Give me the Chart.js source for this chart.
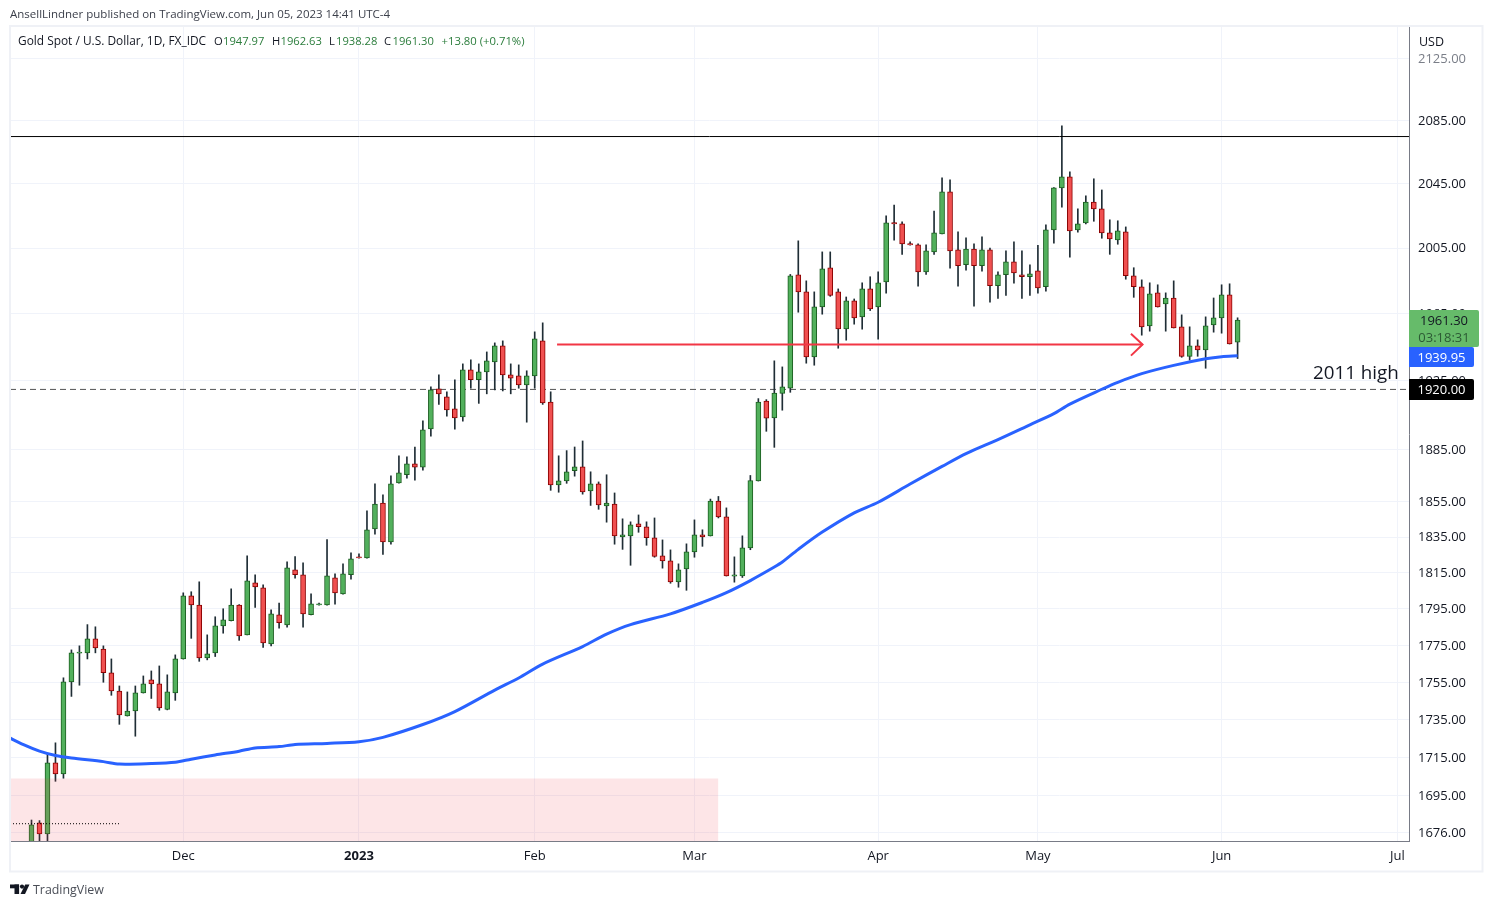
<!DOCTYPE html>
<html><head><meta charset="utf-8"><title>Gold Spot / U.S. Dollar</title>
<script src="https://cdn.jsdelivr.net/npm/chart.js@4/dist/chart.umd.js"></script>
<style>html,body{margin:0;padding:0;background:#fff}canvas{display:block}</style></head>
<body><canvas id="c" width="1493" height="907"></canvas>
<script>
const opens=[1668,1681.0,1675.3,1712.3,1706.5,1755.3,1770.8,1771.0,1778.6,1773.1,
1760.2,1750.4,1737.1,1739.7,1749.4,1756.4,1754.2,1740.6,1749.4,1767.7,
1802.2,1797.2,1768.3,1771.0,1785.7,1788.5,1797.2,1780.8,1809.4,1806.7,
1775.9,1791.8,1786.3,1816.7,1813.9,1791.8,1797.2,1797.2,1812.2,1803.3,
1813.9,1823.5,1823.3,1839.6,1854.3,1832.3,1865.8,1870.4,1876.7,1874.7,
1896.9,1920.3,1915.6,1908.6,1903.9,1931.6,1925.7,1930.4,1936.3,1945.8,
1928.6,1928.0,1922.7,1928.0,1948.8,1912.6,1864.6,1866.9,1872.7,1874.9,
1861.2,1865.2,1852.6,1853.7,1835.1,1835.7,1842.5,1840.8,1834.6,1824.5,
1821.7,1810.0,1817.2,1826.7,1836.3,1835.7,1855.4,1846.4,1813.2,1813.3,
1828.9,1866.9,1913.2,1903.3,1917.7,1920.7,1988.7,1978.3,1939.3,1969.2,
1993.0,1978.3,1956.0,1972.8,1963.2,1980.1,1969.2,1984.4,2020.6,2020.0,
2007.4,2007.0,1990.5,2002.7,2013.8,2039.9,2003.9,1994.8,2004.5,1994.2,
2003.9,1982.0,1988.7,1996.6,1988.7,1987.5,1991.1,1981.4,2016.3,2042.4,
2049.3,2016.3,2020.6,2033.6,2029.3,2014.4,2010.1,2015.1,1988.1,1981.4,
1957.8,1977.7,1971.0,1974.6,1957.2,1939.6,1945.8,1943.4,1958.4,1962.6,
1976.5,1947.97];
const highs=[1682.5,1682.2,1717.0,1722.8,1757.5,1772.6,1774.8,1786.4,1785.2,1774.8,
1767.7,1753.1,1749.9,1753.1,1758.5,1761.2,1763.9,1759.1,1769.9,1803.9,
1804.5,1810.0,1780.8,1790.7,1795.1,1806.1,1797.4,1824.5,1813.9,1808.3,
1794.5,1798.3,1821.1,1824.1,1820.6,1803.3,1798.3,1833.6,1814.4,1820.0,
1826.1,1825.6,1849.8,1865.2,1858.9,1869.8,1881.3,1880.7,1886.4,1901.6,
1921.5,1928.6,1918.6,1925.7,1935.1,1937.5,1935.1,1942.2,1947.6,1948.8,
1935.1,1934.5,1931.0,1954.2,1959.6,1918.6,1881.3,1884.3,1886.4,1889.9,
1872.1,1866.3,1870.4,1860.0,1845.3,1843.6,1847.5,1843.6,1845.8,1833.4,
1827.8,1820.0,1831.2,1844.7,1839.1,1856.5,1858.0,1851.5,1823.9,1835.7,
1870.0,1914.6,1914.0,1936.9,1933.3,1988.9,2009.5,1985.0,1978.3,2002.7,
2002.7,1980.1,1975.2,1974.0,1983.8,1987.5,1990.5,2025.0,2031.7,2021.2,
2008.9,2007.6,2007.0,2028.0,2048.7,2047.4,2015.1,2011.4,2007.6,2012.0,
2005.1,1990.5,2003.3,2008.9,2003.3,1994.8,2006.7,2019.4,2042.6,2081.7,
2052.5,2029.3,2037.4,2048.1,2041.1,2022.5,2021.9,2018.1,1993.0,1985.6,
1983.8,1982.6,1977.7,1985.0,1964.4,1957.2,1949.4,1963.2,1974.6,1982.6,
1983.2,1962.63];
const lows=[1664,1668,1670,1702.6,1704.2,1747.5,1753.5,1767.7,1771.0,1755.1,
1748.1,1732.6,1737.0,1726.3,1749.3,1746.4,1740.1,1740.3,1745.4,1767.6,
1778.9,1766.4,1767.2,1769.0,1781.7,1788.4,1777.8,1780.7,1795.9,1774.0,
1774.8,1784.4,1785.0,1812.0,1785.0,1791.7,1797.1,1797.1,1797.6,1803.2,
1811.4,1823.2,1823.2,1836.6,1825.3,1831.0,1865.6,1868.4,1867.3,1873.0,
1892.6,1911.2,1904.3,1896.7,1901.4,1920.7,1911.8,1917.4,1919.7,1919.1,
1917.4,1920.7,1900.8,1920.7,1911.2,1861.5,1860.4,1865.5,1869.6,1859.3,
1852.9,1850.7,1843.4,1831.0,1828.1,1819.2,1837.7,1830.4,1823.7,1817.6,
1809.2,1807.0,1805.3,1823.7,1829.8,1835.6,1845.8,1813.2,1809.8,1812.4,
1827.9,1866.8,1895.5,1886.2,1907.8,1918.3,1966.0,1935.5,1934.3,1964.8,
1975.6,1944.4,1949.2,1958.8,1955.8,1967.0,1949.8,1977.5,2009.9,2001.2,
2006.8,1981.7,1988.9,2001.2,2013.7,1992.7,1981.7,1991.5,1969.6,1990.9,
1972.0,1974.4,1976.2,1983.6,1974.4,1976.2,1977.5,1978.7,2008.0,2030.3,
1999.4,2014.8,2020.0,2021.6,2011.1,2001.2,2007.4,1986.0,1975.0,1952.2,
1954.6,1969.1,1954.6,1956.5,1939.0,1937.3,1939.6,1932.5,1954.0,1953.4,
1946.9,1938.28];
const closes=[1680.0,1675.3,1712.3,1706.5,1755.3,1771.0,1771.0,1778.6,1773.7,1760.2,
1750.4,1737.6,1739.7,1749.4,1754.2,1754.2,1741.3,1749.9,1767.7,1802.2,
1797.2,1768.3,1770.4,1785.7,1789.0,1797.2,1780.2,1810.6,1807.2,1776.4,
1792.3,1787.4,1817.8,1813.9,1792.3,1797.8,1797.4,1813.3,1803.9,1814.4,
1822.8,1823.3,1839.1,1853.7,1832.3,1865.2,1871.5,1876.7,1874.7,1896.3,
1919.7,1917.4,1908.0,1903.3,1931.6,1925.7,1930.4,1936.9,1945.8,1928.6,
1926.6,1922.7,1928.0,1950.0,1912.1,1864.6,1866.9,1872.1,1874.9,1860.6,
1865.2,1853.2,1854.3,1835.7,1836.3,1841.9,1840.8,1834.6,1824.2,1821.7,
1810.0,1816.7,1826.7,1836.3,1835.1,1855.4,1846.4,1813.3,1813.3,1828.9,
1867.1,1912.6,1903.1,1917.9,1921.5,1988.1,1978.3,1939.3,1969.2,1992.3,
1976.2,1956.0,1972.8,1962.6,1980.1,1968.0,1983.8,2020.6,2020.0,2007.6,
2007.0,1990.5,2003.3,2014.4,2039.9,2003.3,1994.2,2004.5,1994.2,2003.9,
1982.0,1988.7,1996.6,1989.9,1987.5,1989.3,1980.7,2016.3,2042.4,2049.3,
2015.7,2020.0,2033.6,2029.3,2014.4,2010.7,2015.7,1988.1,1981.4,1957.2,
1977.1,1969.2,1974.6,1956.6,1939.6,1945.8,1943.4,1957.8,1962.6,1976.5,
1947.0,1961.30];
const emaIndex=[-3,-1,1,3,5,9,11,15,18,20,23,26,28,31,33,37,41,44,49,53,58,61,64,69,72,75,80,84,87,90,93,94,96,99,103,106,110,114,117,121,125,128,130,134,136,139,143,147,149,151];
const emaValues=[1726.0,1721.8,1718.4,1716.1,1714.8,1712.9,1711.6,1711.9,1712.6,1714.2,1716.4,1718.4,1720.1,1720.8,1721.9,1722.5,1723.4,1725.7,1732.5,1739.4,1750.9,1757.4,1764.9,1774.4,1781.2,1786.4,1792.3,1798.6,1804.0,1810.7,1818.2,1821.0,1828.1,1837.8,1848.7,1854.7,1865.1,1875.2,1882.6,1890.7,1899.3,1905.8,1911.4,1920.1,1924.2,1929.3,1934.2,1938.1,1939.4,1939.95];
const priceTicks=[2125,2085,2045,2005,1965,1925,1885,1855,1835,1815,1795,1775,1755,1735,1715,1695,1676];
const timeTickIndex=[19,41,63,83,106,126,149,171];
const timeTickLabels=['Dec','2023','Feb','Mar','Apr','May','Jun','Jul'];
const resistance=2074.8, oldHigh=1920, zoneTop=1704, zoneEnd=86, dottedLevel=1680.6, dottedEnd=11;
const arrowShaft=[[65.8,1946.6],[139.1,1946.6]];
const arrowHead=[[137.65,1953],[139.1,1946.6],[137.65,1940]];
const lastClose=1961.30, emaLast=1939.95;

const xMin=-2.692,xMax=172.46,yMin=1671.71,yMax=2145.69;
const FONT='"Open Sans", "Noto Sans", sans-serif';
const isUp=i=>closes[i]>=opens[i];
const GREEN='#52b05c',GREEN_B='#1b5e20',RED='#f05050',RED_B='#8b0000',WICK='#1f2d35';
const idx=opens.map((_,i)=>i);
const hline=(v,extra)=>Object.assign({type:'line',data:[{x:xMin,y:v},{x:xMax,y:v}],pointRadius:0,borderWidth:1},extra);

const overlay={id:'overlay',afterDraw(ch){
  const c=ch.ctx,y=ch.scales.y;
  const txt=(s,x,yy,font,col,al)=>{c.font=font;c.fillStyle=col;c.textAlign=al||'left';c.textBaseline='middle';c.fillText(s,x,yy);};
  c.save();
  // frame
  c.strokeStyle='#eff1f6';c.lineWidth=2;c.strokeRect(10,26,1472.5,845.5);
  // header
  txt('AnsellLindner published on TradingView.com, Jun 05, 2023 14:41 UTC-4',10,14.5,'11.5px '+FONT,'#3a3e49');
  const NF='11.9px '+FONT,LF='11.2px '+FONT,G='#2b7d3c',D='#131722';
  txt('Gold Spot / U.S. Dollar, 1D, FX_IDC',18,42,NF,D);
  [['O','1947.97',214,223],['H','1962.63',272,280.5],['L','1938.28',329,336],['C','1961.30',384,392.5]].forEach(a=>{txt(a[0],a[2],42,LF,D);txt(a[1],a[3],42,LF,G);});
  txt('+13.80 (+0.71%)',441.5,42,'11.3px '+FONT,G);
  txt('USD',1419,42,'12.5px '+FONT,D);
  // annotation
  txt('2011 high',1313,373.5,'18.8px '+FONT,D);
  // price tags
  const tag=(x,yy,w,h,col)=>{c.fillStyle=col;c.beginPath();c.roundRect(x,yy,w,h,[0,2,2,0]);c.fill();};
  const gy=y.getPixelForValue(lastClose);
  tag(1409,310,70,37,'#66bb6a');
  txt(lastClose.toFixed(2),1444,gy+1.5,'13px '+FONT,D,'center');
  txt('03:18:31',1444,gy+18.5,'13px '+FONT,'#2c5a34','center');
  const by=y.getPixelForValue(emaLast);
  tag(1409,347,65,20,'#2962ff');
  txt(emaLast.toFixed(2),1441.5,by+2.2,'13px '+FONT,'#fff','center');
  const ky=y.getPixelForValue(oldHigh);
  tag(1409,379,65,21,'#000');
  txt(oldHigh.toFixed(2),1441.5,ky+1,'13px '+FONT,'#fff','center');
  // footer logo and name
  c.fillStyle='#131722';
  c.fillRect(10,884.5,9,3.8);c.fillRect(14.5,884.5,4.6,9.5);
  c.beginPath();c.arc(22,886.6,2.1,0,7);c.fill();
  c.beginPath();c.moveTo(25.2,884.5);c.lineTo(29.5,884.5);c.lineTo(25,894);c.lineTo(20.5,894);c.fill();
  txt('TradingView',33,890,'12.4px '+FONT,'#4a4e57');
  c.restore();
}};

new Chart(document.getElementById('c'),{
  type:'bar',
  plugins:[overlay],
  data:{datasets:[
    {type:'line',order:1,data:[{x:xMin,y:zoneTop},{x:zoneEnd,y:zoneTop}],pointRadius:0,borderWidth:0,fill:{target:'start'},backgroundColor:'rgba(242,54,69,0.13)'},
    {type:'line',order:2,data:arrowHead.map(p=>({x:p[0],y:p[1]})),pointRadius:0,borderWidth:2,borderColor:'#f23645'},
    {type:'line',order:3,data:arrowShaft.map(p=>({x:p[0],y:p[1]})),pointRadius:0,borderWidth:2,borderColor:'#f23645'},
    {type:'line',order:4,data:emaIndex.map((x,i)=>({x,y:emaValues[i]})),pointRadius:0,borderWidth:3,borderColor:'#2962ff',tension:0.3},
    {type:'bar',order:6,data:idx.map(i=>({x:i,y:[opens[i],closes[i]]})),barThickness:5,minBarLength:1.2,grouped:false,borderWidth:1,borderSkipped:false,
      backgroundColor:idx.map(i=>isUp(i)?GREEN:RED),borderColor:idx.map(i=>isUp(i)?GREEN_B:RED_B)},
    {type:'bar',order:7,data:idx.map(i=>({x:i,y:[lows[i],highs[i]]})),barThickness:1,grouped:false,borderWidth:0,backgroundColor:WICK},
    hline(resistance,{order:5,borderColor:'#000'}),
    hline(oldHigh,{order:8,borderColor:'#555',borderDash:[6,4]}),
    {type:'line',order:0,data:[{x:xMin,y:dottedLevel},{x:dottedEnd,y:dottedLevel}],pointRadius:0,borderWidth:1,borderColor:'#000',borderDash:[1,2]}
  ]},
  options:{
    responsive:false,animation:false,devicePixelRatio:1,
    layout:{padding:{left:10,top:27,right:10,bottom:36}},
    plugins:{legend:{display:false},tooltip:{enabled:false},title:{display:false}},
    scales:{
      x:{type:'linear',offset:false,min:xMin,max:xMax,
        afterBuildTicks(s){s.ticks=timeTickIndex.map(v=>({value:v}));},
        afterFit(s){s.height=30;},
        grid:{color:'#f0f3fa',drawTicks:false,offset:false},
        border:{color:'#787b86'},
        ticks:{autoSkip:false,maxRotation:0,padding:7,color:'#131722',
          font:c=>({family:'"Open Sans"',size:13,weight:c.tick&&c.tick.value===41?'bold':'normal'}),
          callback:v=>timeTickLabels[timeTickIndex.indexOf(v)]}},
      y:{type:'logarithmic',position:'right',min:yMin,max:yMax,
        afterBuildTicks(s){s.ticks=priceTicks.map(v=>({value:v}));},
        afterFit(s){s.width=74;},
        grid:{color:'#f0f3fa',drawTicks:false},
        border:{color:'#787b86'},
        ticks:{autoSkip:false,padding:9,labelOffset:0.6,font:{family:'"Open Sans"',size:13},
          color:c=>c.tick&&c.tick.value===2125?'#7a7e88':'#131722',
          callback:v=>Number(v).toFixed(2)}}
    }
  }
});
</script></body></html>
